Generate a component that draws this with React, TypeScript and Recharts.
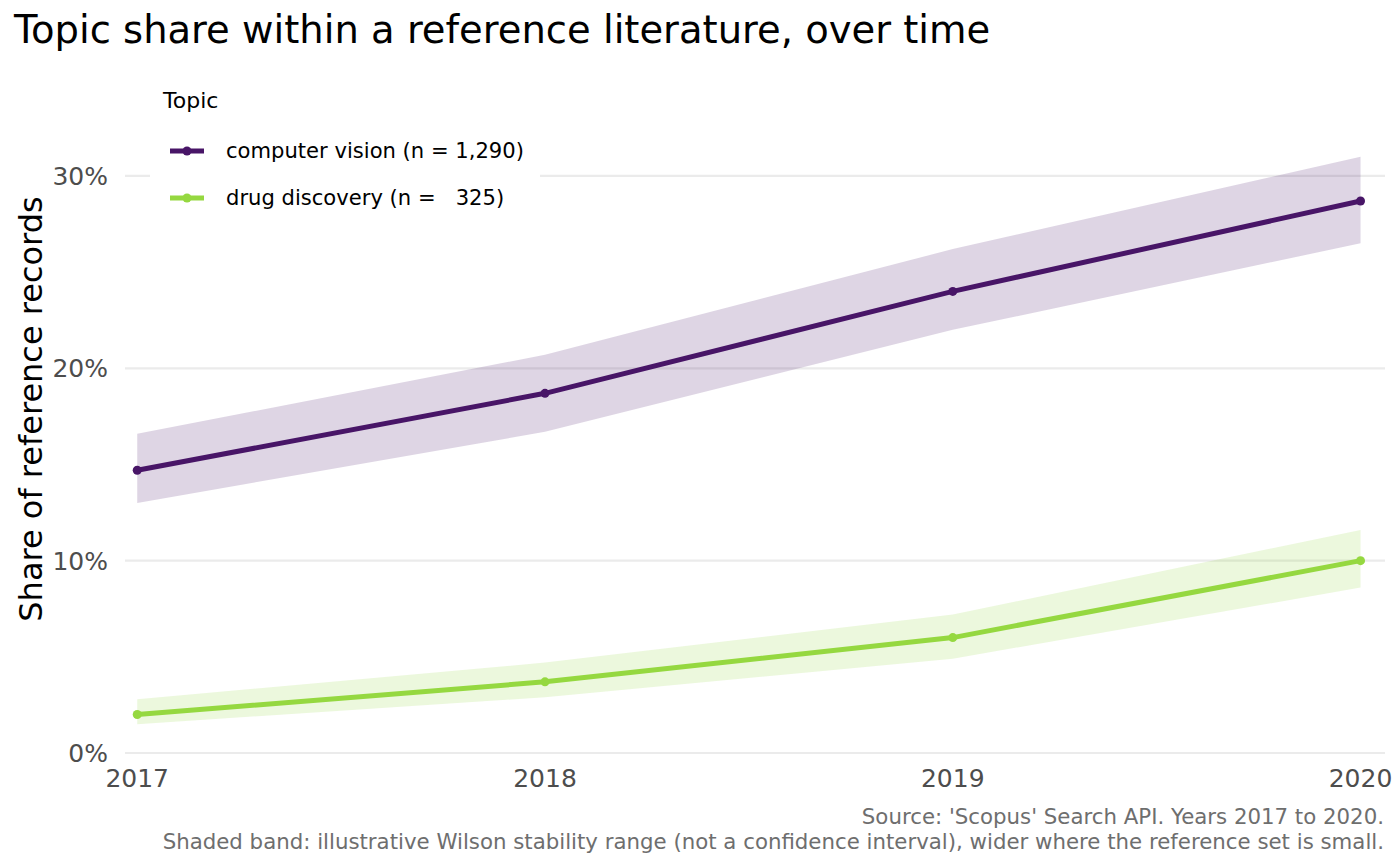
import React from 'react';
import {
  ComposedChart,
  Line,
  Area,
  XAxis,
  YAxis,
  CartesianGrid,
} from 'recharts';

const years = [2017, 2018, 2019, 2020];
const cvShare = [0.147, 0.187, 0.24, 0.287];
const cvLow = [0.13, 0.167, 0.22, 0.265];
const cvHigh = [0.166, 0.207, 0.262, 0.31];
const ddShare = [0.02, 0.037, 0.06, 0.1];
const ddLow = [0.015, 0.029, 0.049, 0.086];
const ddHigh = [0.028, 0.047, 0.072, 0.116];
const yTicks = [0, 0.1, 0.2, 0.3];
const seriesNames = ['computer vision (n = 1,290)', 'drug discovery (n =   325)'];

const CV = '#481567';
const DD = '#95d840';
const FONT = '"DejaVu Sans", Verdana, sans-serif';

const data = years.map((y, i) => ({
  year: y,
  cv: cvShare[i],
  cvBand: [cvLow[i], cvHigh[i]],
  dd: ddShare[i],
  ddBand: [ddLow[i], ddHigh[i]],
}));

const pct = (v: number) => `${Math.round(v * 100)}%`;

function LegendKey({ color }: { color: string }) {
  return (
    <svg width={36} height={12} style={{ display: 'block' }}>
      <line x1={1} y1={6} x2={35} y2={6} stroke={color} strokeWidth={5} />
      <circle cx={18} cy={6} r={4.5} fill={color} />
    </svg>
  );
}

export default function App() {
  return (
    <div
      style={{
        position: 'absolute',
        left: 0,
        top: 0,
        width: 1400,
        height: 866,
        background: '#ffffff',
        fontFamily: FONT,
        overflow: 'hidden',
      }}
    >
      <ComposedChart
        width={1400}
        height={866}
        data={data}
        margin={{ top: 137.5, right: 15, bottom: 83, left: 0 }}
      >
        <CartesianGrid
          vertical={false}
          horizontalValues={yTicks}
          stroke="#ebebeb"
          strokeWidth={2.2}
        />
        <XAxis
          dataKey="year"
          type="number"
          domain={[2016.97, 2020.06]}
          ticks={years}
          axisLine={false}
          tickLine={false}
          tickSize={0}
          tickMargin={16}
          height={30}
          tick={{ fill: '#4d4d4d', fontSize: 25, fontFamily: FONT }}
        />
        <YAxis
          type="number"
          domain={[0, 0.32]}
          ticks={yTicks}
          tickFormatter={pct}
          axisLine={false}
          tickLine={false}
          tickSize={0}
          tickMargin={17}
          width={125}
          tick={{ fill: '#4d4d4d', fontSize: 25, fontFamily: FONT }}
        />
        <Area
          dataKey="cvBand"
          type="linear"
          stroke="none"
          fill={CV}
          fillOpacity={0.18}
          isAnimationActive={false}
          activeDot={false}
        />
        <Area
          dataKey="ddBand"
          type="linear"
          stroke="none"
          fill={DD}
          fillOpacity={0.18}
          isAnimationActive={false}
          activeDot={false}
        />
        <Line
          dataKey="cv"
          type="linear"
          stroke={CV}
          strokeWidth={5}
          dot={{ r: 4.5, fill: CV, stroke: 'none' }}
          activeDot={false}
          isAnimationActive={false}
        />
        <Line
          dataKey="dd"
          type="linear"
          stroke={DD}
          strokeWidth={5}
          dot={{ r: 4.5, fill: DD, stroke: 'none' }}
          activeDot={false}
          isAnimationActive={false}
        />
      </ComposedChart>

      {/* Title */}
      <div
        style={{
          position: 'absolute',
          left: 14,
          top: 8,
          fontSize: 38.5,
          color: '#000',
          whiteSpace: 'pre',
          lineHeight: '44px',
        }}
      >
        Topic share within a reference literature, over time
      </div>

      {/* Y axis title */}
      <div
        style={{
          position: 'absolute',
          left: 31,
          top: 409,
          transform: 'translate(-50%, -50%) rotate(-90deg)',
          fontSize: 32,
          color: '#000',
          whiteSpace: 'pre',
          lineHeight: '38px',
        }}
      >
        Share of reference records
      </div>

      {/* Legend */}
      <div
        style={{
          position: 'absolute',
          left: 150,
          top: 80,
          width: 390,
          height: 140,
          background: '#ffffff',
        }}
      >
        <div
          style={{
            position: 'absolute',
            left: 13,
            top: 7,
            fontSize: 22,
            color: '#000',
            lineHeight: '28px',
          }}
        >
          Topic
        </div>
        {seriesNames.map((name, i) => (
          <div
            key={name}
            style={{
              position: 'absolute',
              left: 19,
              top: 71 + i * 47 - 14,
              height: 28,
              display: 'flex',
              alignItems: 'center',
            }}
          >
            <LegendKey color={i === 0 ? CV : DD} />
            <span
              style={{
                marginLeft: 21,
                fontSize: 21.1,
                color: '#000',
                whiteSpace: 'pre',
                lineHeight: '28px',
              }}
            >
              {name}
            </span>
          </div>
        ))}
      </div>

      {/* Caption */}
      <div
        style={{
          position: 'absolute',
          right: 16,
          top: 804,
          fontSize: 21.3,
          color: '#6e6e6e',
          textAlign: 'right',
          lineHeight: '25px',
          whiteSpace: 'pre',
        }}
      >
        {"Source: 'Scopus' Search API. Years 2017 to 2020.\nShaded band: illustrative Wilson stability range (not a confidence interval), wider where the reference set is small."}
      </div>
    </div>
  );
}
